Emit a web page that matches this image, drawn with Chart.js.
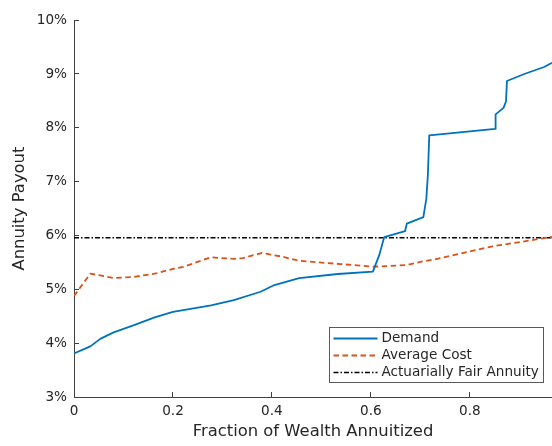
<!DOCTYPE html>
<html>
<head>
<meta charset="utf-8">
<script src="https://cdn.jsdelivr.net/npm/chart.js@4/dist/chart.umd.min.js"></script>
<style>
  html, body { margin: 0; padding: 0; background: #fff; }
  #c { display: block; }
</style>
</head>
<body>
<canvas id="c" width="552" height="446"></canvas>
<script>
// ---- data ----
const seriesNames = ["Demand", "Average Cost", "Actuarially Fair Annuity"];
const demandX = [0, 0.033, 0.053, 0.080, 0.120, 0.163, 0.2, 0.277, 0.323, 0.377, 0.405, 0.455, 0.533, 0.604, 0.617, 0.627, 0.669, 0.6726, 0.706, 0.712, 0.715, 0.718, 0.851, 0.852, 0.868, 0.873, 0.875, 0.910, 0.950, 0.966];
const demandY = [3.81, 3.94, 4.08, 4.20, 4.33, 4.48, 4.58, 4.70, 4.80, 4.955, 5.08, 5.21, 5.285, 5.33, 5.64, 5.97, 6.08, 6.22, 6.34, 6.68, 7.10, 7.86, 7.98, 8.25, 8.37, 8.49, 8.87, 9.00, 9.13, 9.21];
const costX = [0, 0.033, 0.053, 0.080, 0.121, 0.168, 0.2, 0.222, 0.276, 0.323, 0.341, 0.38, 0.419, 0.455, 0.538, 0.605, 0.673, 0.704, 0.726, 0.797, 0.846, 0.903, 0.966];
const costY = [4.875, 5.29, 5.26, 5.21, 5.23, 5.30, 5.38, 5.42, 5.595, 5.565, 5.58, 5.675, 5.61, 5.53, 5.47, 5.42, 5.45, 5.52, 5.55, 5.70, 5.80, 5.88, 5.975];
const fairX = [0, 0.966];
const fairY = [5.96, 5.96];
const xTickValues = [0, 0.2, 0.4, 0.6, 0.8];
const yTickValues = [3, 4, 5, 6, 7, 8, 9, 10];
const xTitle = "Fraction of Wealth Annuitized";
const yTitle = "Annuity Payout";

const pts = (xs, ys) => xs.map((x, i) => ({ x: x, y: ys[i] }));

const FONT = "'DejaVu Sans', sans-serif";
const TXT = '#262626';
const AX = '#404040';

const legendPlugin = {
  id: 'boxLegend',
  afterDatasetsDraw(chart) {
    const ctx = chart.ctx;
    const a = chart.chartArea;
    const w = 214, h = 55;
    const bx = Math.round(a.right - 9 - w) + 0.5;
    const by = Math.round(a.bottom - 15 - h) + 0.5;
    ctx.save();
    ctx.fillStyle = '#fff';
    ctx.fillRect(bx, by, w, h);
    ctx.strokeStyle = '#5a5a5a';
    ctx.lineWidth = 1;
    ctx.setLineDash([]);
    ctx.strokeRect(bx, by, w, h);
    ctx.font = "13.6px " + FONT;
    ctx.textBaseline = 'middle';
    ctx.textAlign = 'left';
    chart.data.datasets.forEach((ds, i) => {
      const yy = by + 11 + i * 17;
      ctx.beginPath();
      ctx.strokeStyle = ds.borderColor;
      ctx.lineWidth = ds.borderWidth;
      ctx.setLineDash(ds.borderDash || []);
      ctx.moveTo(bx + 4, yy);
      ctx.lineTo(bx + 48, yy);
      ctx.stroke();
      ctx.setLineDash([]);
      ctx.fillStyle = TXT;
      ctx.fillText(ds.label, bx + 52, yy);
    });
    ctx.restore();
  }
};

new Chart(document.getElementById('c'), {
  type: 'scatter',
  data: {
    datasets: [
      { label: seriesNames[0], data: pts(demandX, demandY), showLine: true, borderColor: '#0072BD', borderWidth: 1.8, pointRadius: 0, tension: 0, borderJoinStyle: 'round' },
      { label: seriesNames[1], data: pts(costX, costY), showLine: true, borderColor: '#D95319', borderWidth: 1.8, borderDash: [5.5, 3.5], pointRadius: 0, tension: 0 },
      { label: seriesNames[2], data: pts(fairX, fairY), showLine: true, borderColor: '#000000', borderWidth: 1.5, borderDash: [5, 2, 1.5, 2], pointRadius: 0, tension: 0 }
    ]
  },
  options: {
    responsive: false,
    animation: false,
    devicePixelRatio: 1,
    layout: { padding: { top: 15, right: 0, bottom: 0, left: 0 } },
    plugins: { legend: { display: false }, tooltip: { enabled: false } },
    scales: {
      x: {
        type: 'linear',
        min: 0,
        max: fairX[1],
        afterFit: (s) => { s.height = 49; },
        afterBuildTicks: (s) => { s.ticks = xTickValues.map(v => ({ value: v })); },
        ticks: {
          includeBounds: false,
          color: TXT,
          padding: 11,
          maxRotation: 0,
          font: { family: FONT, size: 13.6 },
          callback: (v) => v === 0 ? '0' : Number(v).toFixed(1)
        },
        grid: { drawOnChartArea: false, drawTicks: true, tickLength: -5, color: AX, tickColor: AX },
        border: { display: true, color: AX, width: 1 },
        title: { display: true, text: xTitle, color: TXT, font: { family: FONT, size: 16.4 }, padding: { top: 0, bottom: 4 } }
      },
      y: {
        type: 'linear',
        min: 3,
        max: 10,
        afterFit: (s) => { s.width = 74; },
        afterBuildTicks: (s) => { s.ticks = yTickValues.map(v => ({ value: v })); },
        ticks: {
          color: TXT,
          padding: 12,
          font: { family: FONT, size: 13.6 },
          callback: (v) => v + '%'
        },
        grid: { drawOnChartArea: false, drawTicks: true, tickLength: -5, color: AX, tickColor: AX },
        border: { display: true, color: AX, width: 1 },
        title: { display: true, text: yTitle, color: TXT, font: { family: FONT, size: 16.4 }, padding: { top: 10, bottom: 0 } }
      }
    }
  },
  plugins: [legendPlugin]
});
</script>
</body>
</html>
